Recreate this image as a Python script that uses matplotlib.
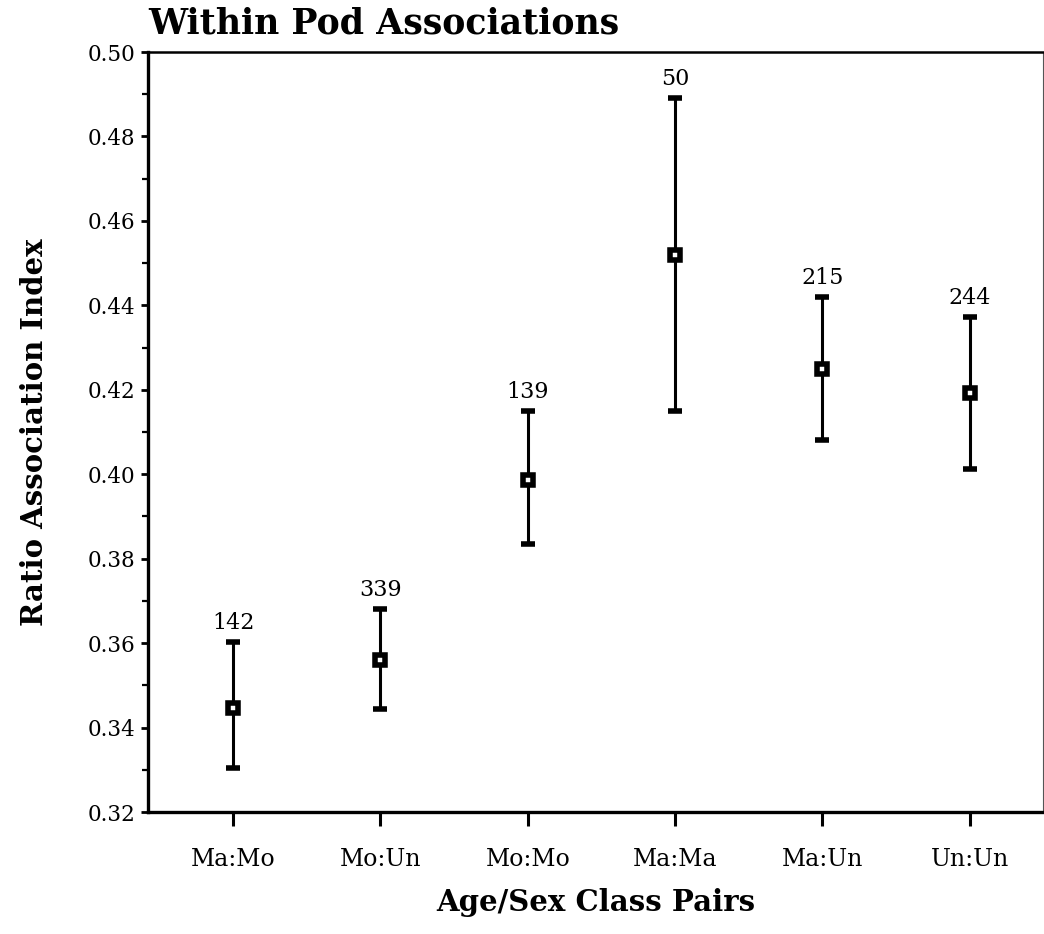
import matplotlib
matplotlib.use("Agg")
import matplotlib.pyplot as plt
import numpy as np
from matplotlib.ticker import MultipleLocator

# data
pairs = ["Ma:Mo", "Mo:Un", "Mo:Mo", "Ma:Ma", "Ma:Un", "Un:Un"]
means = [0.3447, 0.3560, 0.3987, 0.4519, 0.4249, 0.4192]
upper = [0.3603, 0.3680, 0.4150, 0.4890, 0.4420, 0.4372]
lower = [0.3304, 0.3444, 0.3834, 0.4150, 0.4081, 0.4012]
counts = [142, 339, 139, 50, 215, 244]

plt.rcParams['font.family'] = ['DejaVu Serif']

x = np.arange(1, len(pairs) + 1)
means = np.array(means)
yerr = [means - np.array(lower), np.array(upper) - means]

fig = plt.figure(figsize=(10.44, 9.34), dpi=100)
ax = fig.add_axes([0.1418, 0.1306, 0.857, 0.8137])

ax.errorbar(x, means, yerr=yerr, fmt='s', color='black', ecolor='black',
            elinewidth=2.2, capsize=5, capthick=2.2,
            markersize=6.5, markerfacecolor='white', markeredgecolor='black',
            markeredgewidth=4)

for xi, top, n in zip(x, upper, counts):
    ax.annotate(str(n), (xi, top), xytext=(0, 6), textcoords='offset points',
                ha='center', va='bottom', fontsize=16)

ax.set_xlim(0.423, 6.495)
ax.set_ylim(0.32, 0.50)
ax.set_xticks(x)
ax.set_xticklabels(pairs, fontsize=17)
ax.yaxis.set_major_locator(MultipleLocator(0.02))
ax.yaxis.set_minor_locator(MultipleLocator(0.01))
ax.set_yticklabels([f"{v:.2f}" for v in ax.get_yticks()], fontsize=15.5)

ax.tick_params(axis='x', which='major', direction='out', length=10, width=2.2, pad=16)
ax.tick_params(axis='y', which='major', direction='out', length=5, width=2, pad=4)
ax.tick_params(axis='y', which='minor', direction='out', length=4, width=1.6)

for side in ['left', 'bottom']:
    ax.spines[side].set_linewidth(2.4)
ax.spines['top'].set_linewidth(1.8)
ax.spines['right'].set_linewidth(0.8)
ax.spines['right'].set_color('#555555')

ax.set_xlabel("Age/Sex Class Pairs", fontsize=21, fontweight='bold', labelpad=12)
ax.set_ylabel("Ratio Association Index", fontsize=21, fontweight='bold', labelpad=28)
ax.set_title("Within Pod Associations", fontsize=25, fontweight='bold', loc='left', pad=13)

fig.savefig("out.png", dpi=100)
